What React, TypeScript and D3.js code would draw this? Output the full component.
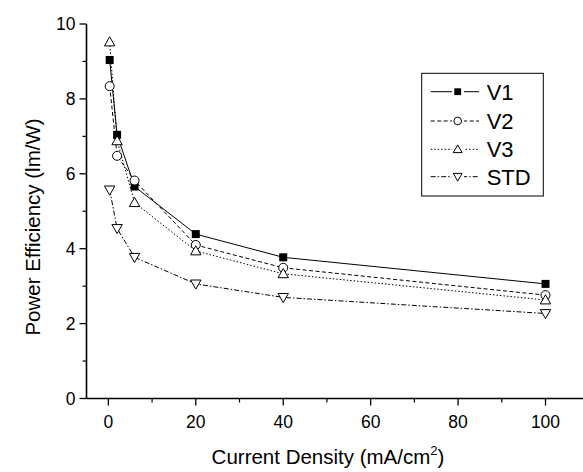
import React from "react";
import * as d3 from "d3";

const xValues = [0.3, 2, 6, 20, 40, 100];
const v1 = [9.04, 7.04, 5.66, 4.39, 3.77, 3.06];
const v2 = [8.34, 6.48, 5.82, 4.1, 3.49, 2.76];
const v3 = [9.52, 6.88, 5.23, 3.94, 3.33, 2.63];
const std = [5.57, 4.54, 3.77, 3.06, 2.7, 2.27];
const seriesNames = ["V1", "V2", "V3", "STD"];
const xTicks = [0, 20, 40, 60, 80, 100];
const xMinor = [10, 30, 50, 70, 90];
const yTicks = [0, 2, 4, 6, 8, 10];
const yMinor = [1, 3, 5, 7, 9];

const W = 583;
const H = 472;
const FONT = "Arial, 'Liberation Sans', Helvetica, sans-serif";

const x = d3.scaleLinear().domain([-5, 100]).range([86.5, 545.5]);
const y = d3.scaleLinear().domain([0, 10]).range([398.5, 24]);

const dashes = ["", "4,2.5", "1.5,2", "5,2,1.5,2"];
const allSeries = [v1, v2, v3, std];

function Marker({ kind, cx, cy, s = 1 }: { kind: number; cx: number; cy: number; s?: number }) {
  if (kind === 0) {
    const h = 4 * s;
    return <rect x={cx - h} y={cy - h} width={2 * h} height={2 * h} fill="#000" />;
  }
  if (kind === 1) {
    return <circle cx={cx} cy={cy} r={4.5 * s} fill="#fff" stroke="#000" strokeWidth={1} />;
  }
  const r = 5.2 * s;
  if (kind === 2) {
    const p = `${cx},${cy - r} ${cx + r},${cy + r * 0.75} ${cx - r},${cy + r * 0.75}`;
    return <polygon points={p} fill="#fff" stroke="#000" strokeWidth={1} />;
  }
  const p = `${cx},${cy + r} ${cx + r},${cy - r * 0.75} ${cx - r},${cy - r * 0.75}`;
  return <polygon points={p} fill="#fff" stroke="#000" strokeWidth={1} />;
}

export default function App() {
  const line = d3
    .line<number>()
    .x((_, i) => x(xValues[i]))
    .y((d) => y(d));
  const xEnd = 583;
  const legendRows = [91.7, 121, 149.3, 176.7];
  return (
    <svg width={W} height={H} style={{ display: "block", position: "absolute", left: 0, top: 0 }} fontFamily={FONT}>
      <rect width={W} height={H} fill="#fff" />
      {/* axes */}
      <line x1={x(-5)} x2={x(-5)} y1={y(10)} y2={y(0)} stroke="#000" strokeWidth={1.6} />
      <line x1={x(-5)} x2={xEnd} y1={y(0)} y2={y(0)} stroke="#000" strokeWidth={1.6} />
      {yTicks.map((t) => (
        <g key={"y" + t}>
          <line x1={x(-5) - 7} x2={x(-5)} y1={y(t)} y2={y(t)} stroke="#000" strokeWidth={1.3} />
          <text x={x(-5) - 11} y={y(t)} dy="0.36em" textAnchor="end" fontSize={17.5}>
            {t}
          </text>
        </g>
      ))}
      {yMinor.map((t) => (
        <line key={"ym" + t} x1={x(-5) - 4} x2={x(-5)} y1={y(t)} y2={y(t)} stroke="#000" strokeWidth={1.2} />
      ))}
      {xTicks.map((t) => (
        <g key={"x" + t}>
          <line x1={x(t)} x2={x(t)} y1={y(0)} y2={y(0) + 7} stroke="#000" strokeWidth={1.3} />
          <text x={x(t)} y={y(0) + 29} textAnchor="middle" fontSize={17.5}>
            {t}
          </text>
        </g>
      ))}
      {xMinor.map((t) => (
        <line key={"xm" + t} x1={x(t)} x2={x(t)} y1={y(0)} y2={y(0) + 4} stroke="#000" strokeWidth={1.2} />
      ))}
      <text x={328} y={464} textAnchor="middle" fontSize={20.5}>
        Current Density (mA/cm
        <tspan dy={-9} fontSize={13}>2</tspan>
        <tspan dy={9}>)</tspan>
      </text>
      <text transform={`translate(40,227) rotate(-90)`} textAnchor="middle" fontSize={20.5}>
        Power Efficiency (lm/W)
      </text>
      {/* series */}
      {allSeries.map((s, k) => (
        <path key={"l" + k} d={line(s) || ""} fill="none" stroke="#000" strokeWidth={1} strokeDasharray={dashes[k] || undefined} />
      ))}
      {allSeries.map((s, k) =>
        s.map((v, i) => <Marker key={`m${k}-${i}`} kind={k} cx={x(xValues[i])} cy={y(v)} />)
      )}
      {/* legend */}
      <rect x={421.7} y={73.3} width={121.6} height={122.7} fill="#fff" stroke="#000" strokeWidth={1} />
      {seriesNames.map((n, k) => (
        <g key={"lg" + k}>
          <line x1={430.7} x2={479} y1={legendRows[k]} y2={legendRows[k]} stroke="#000" strokeWidth={1} strokeDasharray={dashes[k] || undefined} />
          <rect x={452} y={legendRows[k] - 6} width={12} height={12} fill="#fff" />
          <Marker kind={k} cx={457.7} cy={legendRows[k]} s={0.85} />
          <text x={486.7} y={legendRows[k]} dy="0.36em" fontSize={22}>
            {n}
          </text>
        </g>
      ))}
    </svg>
  );
}
